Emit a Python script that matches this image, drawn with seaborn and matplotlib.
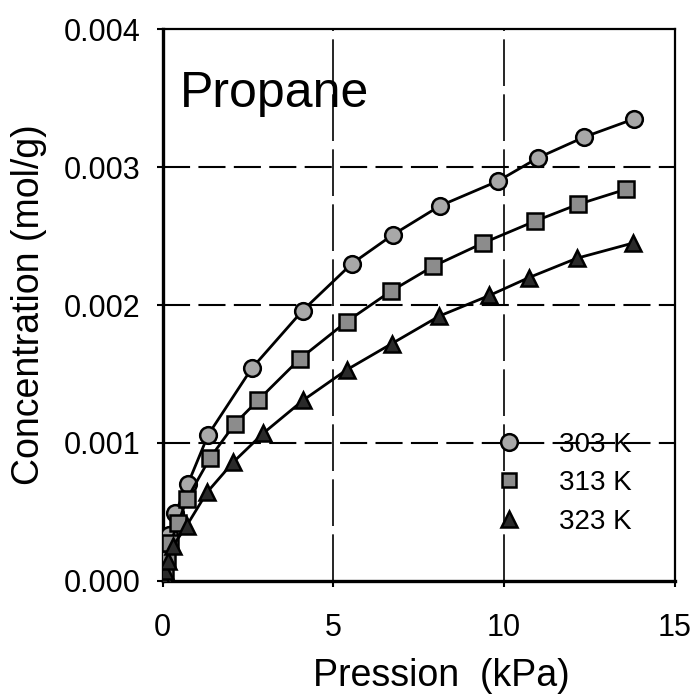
import numpy as np
import pandas as pd
import matplotlib
matplotlib.use("Agg")
import matplotlib.pyplot as plt
from matplotlib.lines import Line2D
import seaborn as sns

# ---- data ----
series_labels = ["303 K", "313 K", "323 K"]

p_303 = [0.0, 0.05, 0.12, 0.20, 0.37, 0.74, 1.34, 2.61, 4.10, 5.54, 6.74, 8.12, 9.82, 11.00, 12.35, 13.79]
c_303 = [0.00002, 0.00012, 0.00022, 0.00033, 0.00049, 0.00070, 0.00106, 0.00154, 0.00196, 0.00230,
         0.00251, 0.00272, 0.00290, 0.00307, 0.00322, 0.00335]

p_313 = [0.0, 0.06, 0.12, 0.22, 0.46, 0.71, 1.39, 2.12, 2.80, 4.02, 5.39, 6.68, 7.91, 9.38, 10.91, 12.15, 13.56]
c_313 = [0.00001, 0.00008, 0.00016, 0.00027, 0.00042, 0.00059, 0.00089, 0.00114, 0.00131, 0.00161,
         0.00188, 0.00210, 0.00228, 0.00245, 0.00261, 0.00273, 0.00284]

p_323 = [0.0, 0.08, 0.15, 0.30, 0.71, 1.30, 2.07, 2.95, 4.12, 5.39, 6.71, 8.10, 9.57, 10.73, 12.13, 13.77]
c_323 = [0.00001, 0.00007, 0.00014, 0.00025, 0.00040, 0.00064, 0.00086, 0.00107, 0.00131, 0.00153,
         0.00172, 0.00192, 0.00207, 0.00220, 0.00234, 0.00245]

x_ticks = [0, 5, 10, 15]
y_ticks = [0.000, 0.001, 0.002, 0.003, 0.004]
y_tick_labels = ["0.000", "0.001", "0.002", "0.003", "0.004"]

# ---- style ----
sns.set_theme(style="white")
plt.rcParams["font.family"] = ["Liberation Sans", "DejaVu Sans"]

fig = plt.figure(figsize=(6.96, 6.99), dpi=100)
ax = fig.add_axes([0.2335, 0.1693, 0.9698 - 0.2335, 0.9578 - 0.1693])

# grid lines (dashed)
for yv in [0.001, 0.002, 0.003]:
    ax.axhline(yv, color="black", lw=1.5, dashes=(13, 4), zorder=1)
for xv in [5, 10]:
    ax.axvline(xv, color="black", lw=1.2, dashes=(28, 5), zorder=1)

styles = [
    dict(marker="o", markersize=12, markerfacecolor="#a8a8a8"),
    dict(marker="s", markersize=11, markerfacecolor="#8c8c8c"),
    dict(marker="^", markersize=12, markerfacecolor="#2a2a2a"),
]
datasets = [(p_303, c_303), (p_313, c_313), (p_323, c_323)]

for (px, cy), lab, st in zip(datasets, series_labels, styles):
    df = pd.DataFrame({"p": px, "c": cy})
    sns.lineplot(data=df, x="p", y="c", ax=ax, color="black", lw=2.0,
                 estimator=None, sort=False, markeredgecolor="black",
                 markeredgewidth=1.8, zorder=3, legend=False, **st)

ax.set_xlim(0, 15)
ax.set_ylim(0, 0.004)
ax.set_xticks(x_ticks)
ax.set_xticklabels([str(v) for v in x_ticks])
ax.set_yticks(y_ticks)
ax.set_yticklabels(y_tick_labels)

ax.tick_params(axis="both", direction="out", length=4, width=1.5, color="black",
               labelsize=22, labelcolor="black")
ax.tick_params(axis="x", pad=19)
ax.tick_params(axis="y", pad=12)
ax.tick_params(bottom=True, left=True)

for side in ["left", "bottom"]:
    ax.spines[side].set_linewidth(2.4)
    ax.spines[side].set_color("black")
for side in ["top", "right"]:
    ax.spines[side].set_linewidth(1.6)
    ax.spines[side].set_color("black")
    ax.spines[side].set_visible(True)

ax.set_xlabel("Pression  (kPa)", fontsize=27, color="black")
ax.set_ylabel("Concentration (mol/g)", fontsize=27, color="black")
ax.xaxis.set_label_coords(0.545, -0.14)
ax.yaxis.set_label_coords(-0.225, 0.5)

ax.text(0.034, 0.859, "Propane", transform=ax.transAxes, fontsize=36,
        ha="left", va="baseline", color="black")

handles = [Line2D([], [], linestyle="none", color="black", markeredgecolor="black",
                  markeredgewidth=1.8, **st) for st in styles]
handles[1].set_markersize(10)
leg = ax.legend(handles, series_labels, loc="center left", bbox_to_anchor=(0.622, 0.177),
                frameon=False, fontsize=20, handlelength=1.0, handletextpad=1.3,
                labelspacing=0.45, borderpad=0)
for t in leg.get_texts():
    t.set_color("black")

fig.savefig("out.png", dpi=100, facecolor="white")
